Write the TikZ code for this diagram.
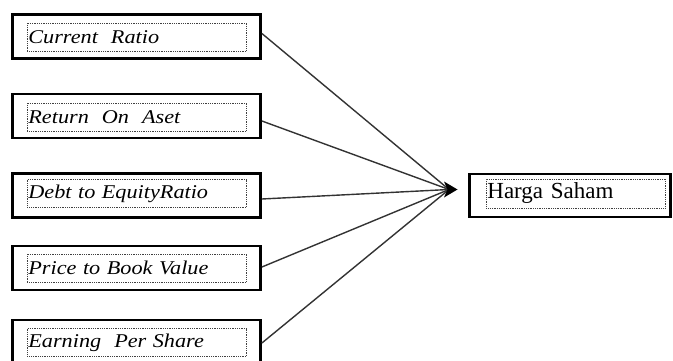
\documentclass[tikz,border=0pt]{standalone}
\usepackage{fontspec}
\setmainfont{Liberation Serif}
\newfontfamily\itserif[FakeStretch=1.14,UprightFont={Liberation Serif Italic}]{Liberation Serif}
\begin{document}
\begin{tikzpicture}[x=1pt,y=1pt,
  outerbox/.style={draw=black, line width=2.8pt, minimum width=248pt, minimum height=44pt, inner sep=0pt},
  innerbox/.style={draw=black!75, densely dotted, line width=0.8pt, minimum width=219pt, text width=217pt, minimum height=28pt, inner xsep=1pt, inner ysep=0pt, anchor=west, font=\itserif\fontsize{19.5}{22}\selectfont},
  outerbox2/.style={draw=black, line width=2.8pt, minimum width=201pt, minimum height=43pt, inner sep=0pt},
  innerbox2/.style={draw=black!75, densely dotted, line width=0.8pt, minimum width=179pt, text width=177pt, minimum height=29pt, inner xsep=1pt, inner ysep=0pt, anchor=west, font=\fontsize{23}{26}\selectfont},
  conn/.style={draw=black!80, line width=1.4pt}
]
\useasboundingbox (0,0) rectangle (673,-361);
% left boxes
\node[outerbox] (b1) at (136.5,-36.5) {};
\node[innerbox] (t1) at (27,-37) {Current~ Ratio};
\node[outerbox] (b2) at (136.5,-116) {};
\node[innerbox] (t2) at (27,-117) {Return~ On~ Aset};
\node[outerbox] (b3) at (136.5,-195.5) {};
\node[innerbox] (t3) at (27,-193.5) {Debt to EquityRatio};
\node[outerbox] (b4) at (136.5,-268) {};
\node[innerbox] (t4) at (27,-268) {Price to Book Value};
\node[outerbox, minimum height=46pt] (b5) at (136.5,-343) {};
\node[innerbox] (t5) at (27,-342.5) {Earning~ Per Share};
% right box
\node[outerbox2] (h) at (570,-195.5) {};
\node[innerbox2] (ht) at (486,-193.5) {Harga Saham};
% convergence point and arrow head
\coordinate (tip) at (449,-189.5);
\foreach \b/\dy in {b1/-3,b2/5,b3/3.5,b4/-1,b5/0}{
  \draw[conn] ([yshift=-\dy pt]\b.east) -- (tip);
}
\fill[black] (444,-181.5) -- (457.5,-189.5) -- (444,-197.5) -- (447.5,-189.5) -- cycle;
\end{tikzpicture}
\end{document}
